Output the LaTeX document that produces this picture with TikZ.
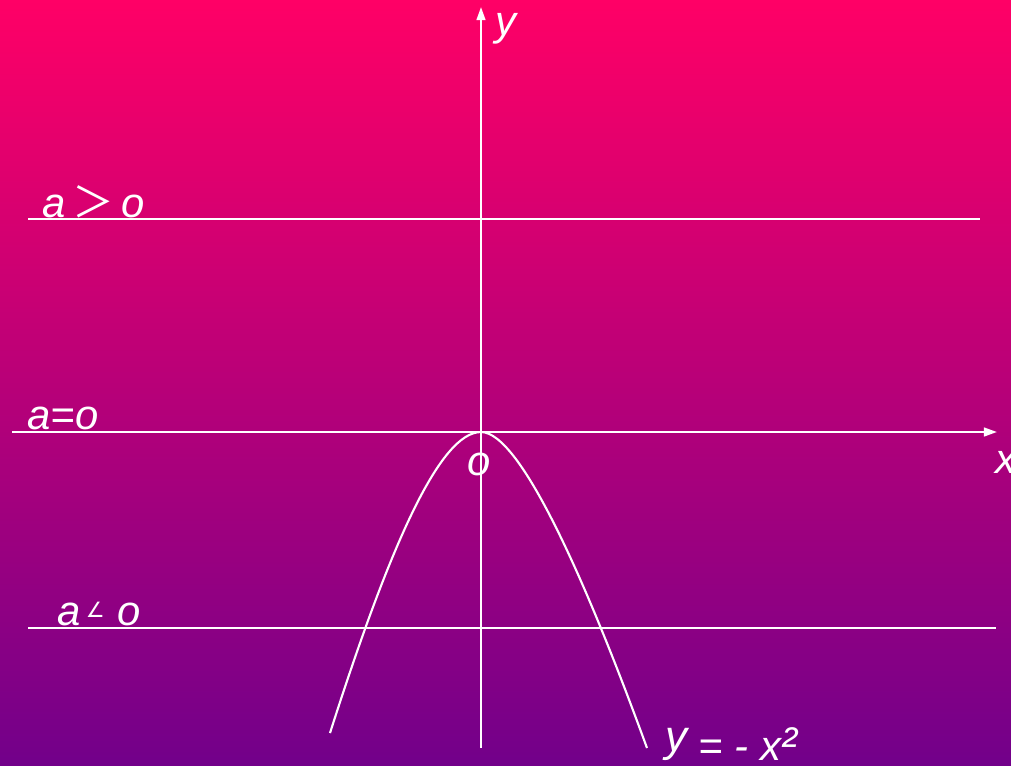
\documentclass[tikz,border=0pt]{standalone}
\usepackage{fontspec}
\setmainfont{Liberation Sans}
\newfontfamily\cjkfont{Noto Sans CJK SC}
\newfontfamily\symfont{DejaVu Sans}
\usetikzlibrary{arrows.meta}
\definecolor{bgtop}{RGB}{255,0,102}
\definecolor{bgbot}{RGB}{114,0,138}

\begin{document}
\begin{tikzpicture}[
  x=0.02cm, y=-0.02cm,
  font=\fontsize{23.8}{28}\selectfont\itshape,
  wline/.style={white, line width=1.2pt},
  axis/.style={white, line width=1.2pt, -{Triangle[length=7.5pt, width=5pt]}},
  lbl/.style={text=white, inner sep=0pt, anchor=base west}
]
% ---------- Background ----------
\fill[top color=bgtop, bottom color=bgbot] (0,0) rectangle (1011,765);
\useasboundingbox (0,0) rectangle (1011,765);

% ---------- Axes ----------
\coordinate (O)  at (481,432);
\coordinate (xl) at (12,432);
\coordinate (xr) at (997,432);
\coordinate (yb) at (481,748);
\coordinate (yt) at (481,7);
\draw[axis] (xl) -- (xr);
\draw[axis] (yb) -- (yt);

% ---------- Levels a ----------
\coordinate (pl) at (28,219);
\coordinate (pr) at (980,219);
\coordinate (nl) at (28,628);
\coordinate (nr) at (996,628);
\draw[wline] (pl) -- (pr);
\draw[wline] (nl) -- (nr);

% ---------- Curve ----------
\coordinate (cl) at (330,733);
\coordinate (cr) at (647,748);
\draw[wline] (cl) .. controls (390,545) and (440,432) .. (O)
                  .. controls (520,432) and (585,578) .. (cr);

% ---------- Labels ----------
\node[lbl] (ylab)  at (495,35)  {y};
\node[lbl] (xlab)  at (995,473) {x};
\node[lbl] (orig)  at (467,475) {o};
\node[lbl] (apos)  at (42,217)  {a\,{\cjkfont\upshape ＞}\,o};
\node[lbl] (azero) at (27,429)  {a=o};
\node[lbl] (aneg)  at (57,625)
  {a\hspace{3pt}\raisebox{4pt}{\symfont\upshape\fontsize{12}{14}\selectfont ∠}\hspace{7pt}o};
\node[lbl] (curve) at (665,760)
  {\raisebox{5pt}{\fontsize{25}{30}\selectfont y} = - x{\fontsize{27}{30}\selectfont ²}};
\end{tikzpicture}
\end{document}
